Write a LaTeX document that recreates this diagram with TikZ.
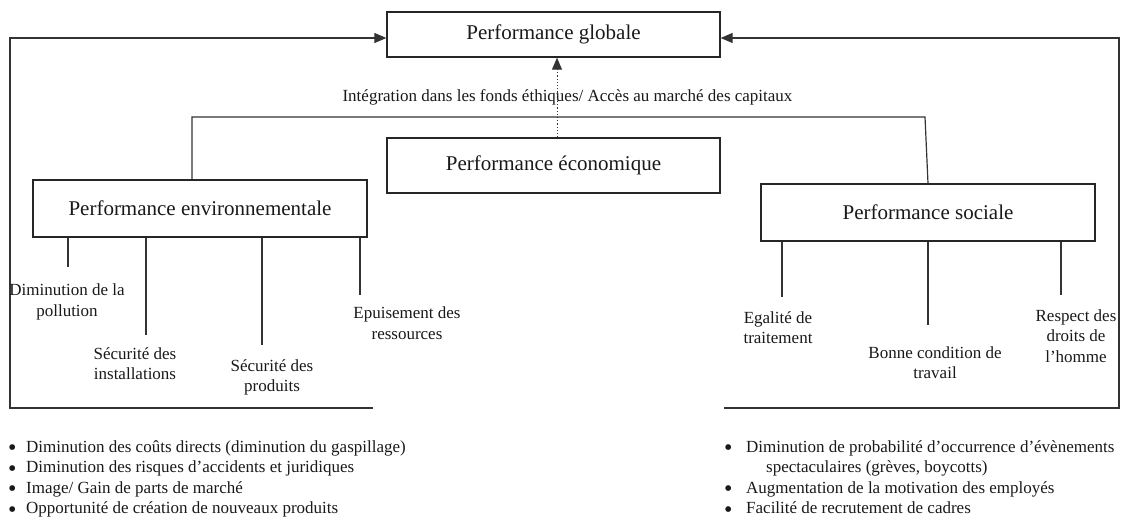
\documentclass[tikz,border=0pt]{standalone}
\usepackage{fontspec}
\setmainfont{Liberation Serif}
\usetikzlibrary{arrows.meta}
\newcommand{\blt}[1]{\makebox[#1][l]{\smash{\raisebox{-3.6pt}{\fontsize{24}{20}\selectfont •}}}}
\begin{document}
\begin{tikzpicture}[x=1pt,y=-1pt,
  box/.style={draw=black!85, line width=1.3pt, minimum width=333pt, inner sep=0pt,
    text=black!90, font=\fontsize{21}{25}\selectfont},
  link/.style={draw=black!80, line width=1.2pt},
  tip/.style={-{Triangle[length=12pt,width=10pt]}},
  leaf/.style={align=center, inner sep=0pt, anchor=north, text=black!90,
    font=\fontsize{17}{20.5}\selectfont},
  item/.style={anchor=base west, inner sep=0pt, text=black!90,
    font=\fontsize{17}{20.5}\selectfont}
]
\useasboundingbox (0,0) rectangle (1126,519);

% main boxes
\node[box, minimum height=45pt] (global) at (553.5,34.5) {Performance globale};
\node[box, minimum height=55pt] (eco) at (553.5,165.5) {Performance économique};
\node[box, minimum width=334pt, minimum height=57pt] (env) at (200,208.5) {Performance environnementale};
\node[box, minimum width=334pt, minimum height=57pt] (soc) at (928,212.5) {Performance sociale};

% label over the bridge
\node[inner sep=0pt, text=black!90, font=\fontsize{17}{20.5}\selectfont] (integ) at (567.5,97)
  {Intégration dans les fonds éthiques/ Accès au marché des capitaux};

% dotted link from the economic box
\coordinate (dx) at (557,0);
\draw[link, dotted, line width=0.9pt, tip] (eco.north -| dx) -- (global.south -| dx);

% outer feedback loops
\coordinate (lend) at (373,408);
\coordinate (lcorner) at (10,408);
\draw[link, tip] (lend) -- (lcorner) |- ([yshift=-3.5pt]global.west);
\coordinate (rend) at (724,408);
\coordinate (rcorner) at (1119,408);
\draw[link, tip] (rend) -- (rcorner) |- ([yshift=-3.5pt]global.east);

% bridge between the environmental and social boxes
\coordinate (bl) at (192,117);
\coordinate (br) at (925,117);
\draw[link] (env.north -| bl) -- (bl) -- (br) -- (soc.north);

% branches
\coordinate (e1) at (68,267);
\coordinate (e2) at (146,335);
\coordinate (e3) at (262,345);
\coordinate (e4) at (360,295);
\coordinate (s1) at (782,297);
\coordinate (s2) at (928,325);
\coordinate (s3) at (1061,295);
\foreach \c in {e1,e2,e3,e4} \draw[link] (env.south -| \c) -- (\c);
\foreach \c in {s1,s2,s3} \draw[link] (soc.south -| \c) -- (\c);

% leaves
\node[leaf] (l1) at (67,284) {Diminution de la\\pollution};
\node[leaf] (l2) at (135,347) {Sécurité des\\installations};
\node[leaf] (l3) at (272,359) {Sécurité des\\produits};
\node[leaf] (l4) at (407,307) {Epuisement des\\ressources};
\node[leaf] (r1) at (778,311) {Egalité de\\traitement};
\node[leaf] (r2) at (935,346) {Bonne condition de\\travail};
\node[leaf] (r3) at (1076,309) {Respect des\\droits de\\l’homme};

% bullet lists
\node[item] (a1) at (8,452) {\blt{18pt}Diminution des coûts directs (diminution du gaspillage)};
\node[item] (a2) at (8,472.5) {\blt{18pt}Diminution des risques d’accidents et juridiques};
\node[item] (a3) at (8,493) {\blt{18pt}Image/ Gain de parts de marché};
\node[item] (a4) at (8,513.5) {\blt{18pt}Opportunité de création de nouveaux produits};

\node[item] (b1) at (724,452) {\blt{22pt}Diminution de probabilité d’occurrence d’évènements};
\node[item] (b1c) at (766,472.5) {spectaculaires (grèves, boycotts)};
\node[item] (b2) at (724,493) {\blt{22pt}Augmentation de la motivation des employés};
\node[item] (b3) at (724,513.5) {\blt{22pt}Facilité de recrutement de cadres};
\end{tikzpicture}
\end{document}
